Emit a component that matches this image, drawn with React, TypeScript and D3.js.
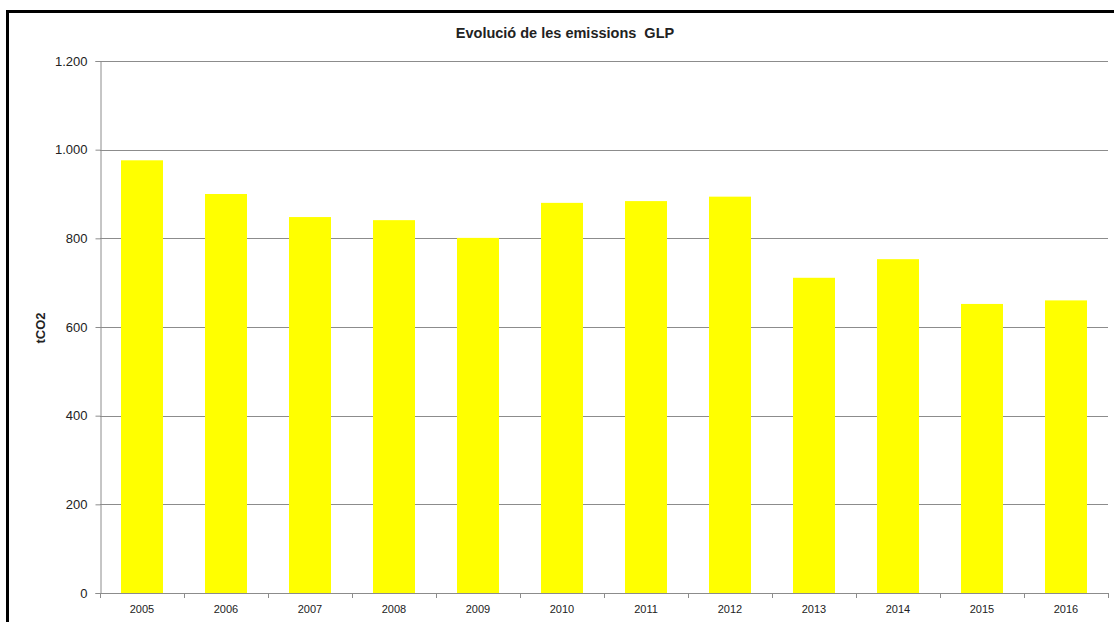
import { useRef, useEffect } from "react";
import * as d3 from "d3";

const years = ["2005", "2006", "2007", "2008", "2009", "2010", "2011", "2012", "2013", "2014", "2015", "2016"];
const emissions = [976, 900, 848, 841, 801, 880, 884, 894, 711, 753, 652, 660];
const yTicks = [0, 200, 400, 600, 800, 1000, 1200];
const title = "Evolució de les emissions  GLP";
const yLabel = "tCO2";

const App = () => {
    const ref = useRef<SVGSVGElement>(null);

    useEffect(() => {
        if (!ref.current) return;
        const width = 1114;
        const height = 622;
        const marginLeft = 100;
        const marginRight = 6;
        const marginTop = 61;
        const marginBottom = 29;

        const x = d3.scaleBand<string>()
            .domain(years)
            .range([marginLeft, width - marginRight])
            .paddingInner(0.5)
            .paddingOuter(0.25);

        const y = d3.scaleLinear()
            .domain([0, 1200])
            .range([height - marginBottom, marginTop]);

        const svg = d3.select(ref.current);
        svg.selectAll("*").remove();
        svg.attr("width", width).attr("height", height);

        svg.append("rect").attr("width", width).attr("height", height).attr("fill", "#fff");

        // outer frame (only left and top visible)
        svg.append("path")
            .attr("d", `M7.5,${height}V11.5H${width}`)
            .attr("fill", "none")
            .attr("stroke", "#000")
            .attr("stroke-width", 3);

        // gridlines
        svg.append("g")
            .selectAll("line")
            .data(yTicks.filter((d) => d > 0))
            .join("line")
            .attr("x1", marginLeft)
            .attr("x2", width - marginRight)
            .attr("y1", (d) => Math.round(y(d)) + 0.5)
            .attr("y2", (d) => Math.round(y(d)) + 0.5)
            .attr("stroke", "#8c8c8c");

        // bars
        svg.append("g")
            .selectAll("rect")
            .data(emissions)
            .join("rect")
            .attr("x", (_, i) => x(years[i])!)
            .attr("width", x.bandwidth())
            .attr("y", (d) => y(d))
            .attr("height", (d) => y(0) - y(d))
            .attr("fill", "#ffff00");

        // y axis
        const yAxis = svg.append("g")
            .attr("transform", `translate(${marginLeft + 0.5},0)`)
            .call(d3.axisLeft(y).tickValues(yTicks).tickSize(5).tickPadding(8)
                .tickFormat((d) => d3.format(",")(d as number).replace(/,/g, ".")));
        yAxis.select(".domain").attr("stroke", "#8c8c8c");
        yAxis.selectAll(".tick line").attr("stroke", "#8c8c8c");
        yAxis.selectAll(".tick text")
            .attr("font-family", "Liberation Sans, Arial, sans-serif")
            .attr("font-size", 13)
            .attr("fill", "#222");

        // x axis with boundary ticks
        const step = x.step();
        const bounds = d3.range(years.length + 1).map((i) => marginLeft + i * step);
        const xg = svg.append("g");
        xg.append("line")
            .attr("x1", marginLeft)
            .attr("x2", width - marginRight)
            .attr("y1", Math.round(y(0)) + 0.5)
            .attr("y2", Math.round(y(0)) + 0.5)
            .attr("stroke", "#8c8c8c");
        xg.selectAll("line.tk")
            .data(bounds)
            .join("line")
            .attr("class", "tk")
            .attr("x1", (d) => Math.round(d) + 0.5)
            .attr("x2", (d) => Math.round(d) + 0.5)
            .attr("y1", y(0))
            .attr("y2", y(0) + 5)
            .attr("stroke", "#8c8c8c");
        xg.selectAll("text")
            .data(years)
            .join("text")
            .attr("x", (d) => x(d)! + x.bandwidth() / 2)
            .attr("y", y(0) + 20)
            .attr("text-anchor", "middle")
            .attr("font-family", "Liberation Sans, Arial, sans-serif")
            .attr("font-size", 11)
            .attr("fill", "#222")
            .text((d) => d);

        // title
        svg.append("text")
            .attr("x", 565)
            .attr("y", 38)
            .attr("text-anchor", "middle")
            .attr("font-family", "Liberation Sans, Arial, sans-serif")
            .attr("font-size", 14.5)
            .attr("font-weight", "bold")
            .attr("fill", "#222")
            .style("white-space", "pre")
            .text(title);

        // y label
        svg.append("text")
            .attr("transform", "translate(45,328) rotate(-90)")
            .attr("text-anchor", "middle")
            .attr("font-family", "Liberation Sans, Arial, sans-serif")
            .attr("font-size", 13)
            .attr("font-weight", "bold")
            .attr("fill", "#222")
            .text(yLabel);
    });

    return (
        <svg ref={ref} style={{ position: "absolute", left: 0, top: 0 }}></svg>
    );
};

export default App;
